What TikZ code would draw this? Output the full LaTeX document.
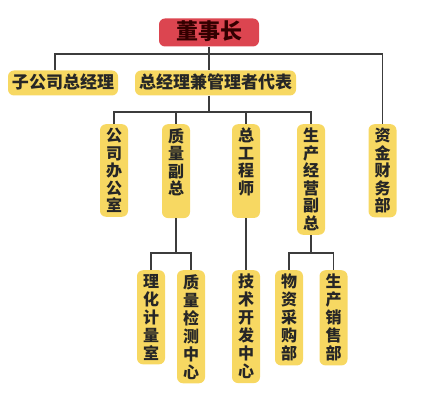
\documentclass[tikz,border=0pt]{standalone}
\usepackage{fontspec}
\setmainfont{Noto Sans CJK SC}
\usetikzlibrary{positioning}
\definecolor{boardred}{HTML}{DC4550}
\definecolor{boxyellow}{HTML}{F7D862}
\definecolor{linegray}{HTML}{3C3C3C}

\begin{document}
\begin{tikzpicture}[x=1pt, y=-1pt,
  every node/.style={rounded corners=6pt, fill=boxyellow, text=black!85},
  hbox/.style={inner xsep=4pt, inner ysep=4pt, text height=14pt, text depth=3pt, font=\bfseries\fontsize{17}{18}\selectfont},
  vbox/.style={anchor=north, text width=16pt, align=center, inner xsep=6pt, inner ysep=4pt, font=\bfseries\fontsize{16}{17.5}\selectfont},
  lowbox/.style={vbox, font=\bfseries\fontsize{16}{18}\selectfont},
  link/.style={draw=linegray, line width=1.2pt}]
\useasboundingbox (0,0) rectangle (430,403);

\node[fill=boardred, text=black!80!red, inner xsep=17pt, inner ysep=4pt, text height=17pt, text depth=3pt, font=\bfseries\fontsize{22}{24}\selectfont] (board) at (209,32.5) {董事长};
\node[hbox] (subgm) at (63,83) {子公司总经理};
\node[hbox] (gm) at (215.5,83) {总经理兼管理者代表};

\node[vbox] (office) at (114,124) {公\\司\\办\\公\\室};
\node[vbox, text depth=72pt] (qvp) at (176,124) {质\\量\\副\\总};
\node[vbox, text depth=72pt] (chief) at (246,124) {总\\工\\程\\师};
\node[vbox] (pvp) at (311,124) {生\\产\\经\\营\\副\\总};
\node[vbox] (finance) at (382.5,124) {资\\金\\财\\务\\部};

\node[lowbox] (lab) at (151,270) {理\\化\\计\\量\\室};
\node[lowbox] (qc) at (191,270) {质\\量\\检\\测\\中\\心};
\node[lowbox] (tech) at (246,270) {技\\术\\开\\发\\中\\心};
\node[lowbox] (buy) at (289,270) {物\\资\\采\\购\\部};
\node[lowbox] (sales) at (333.5,270) {生\\产\\销\\售\\部};

\coordinate (bus1) at (209,54);
\coordinate (bus2) at (209,112);
\coordinate (bus3) at (0,253);

\draw[link] (board.south) -- (bus1);
\draw[link] (subgm.north -| 55,0) |- (finance.north |- bus1) -- (finance.north);
\draw[link] (bus1) -- (board.south |- gm.north);
\draw[link] (board.south |- gm.south) -- (bus2);
\draw[link] (office.north) |- (pvp.north |- bus2) -- (pvp.north);
\draw[link] (qvp.north) -- (qvp.north |- bus2);
\draw[link] (chief.north) -- (chief.north |- bus2);
\draw[link] (qvp.south) -- (qvp.south |- bus3);
\draw[link] (lab.north) |- (qc.north |- bus3) -- (qc.north);
\draw[link] (chief.south) -- (tech.north);
\draw[link] (pvp.south) -- (pvp.south |- bus3);
\draw[link] (buy.north) |- (sales.north |- bus3) -- (sales.north);
\end{tikzpicture}
\end{document}
